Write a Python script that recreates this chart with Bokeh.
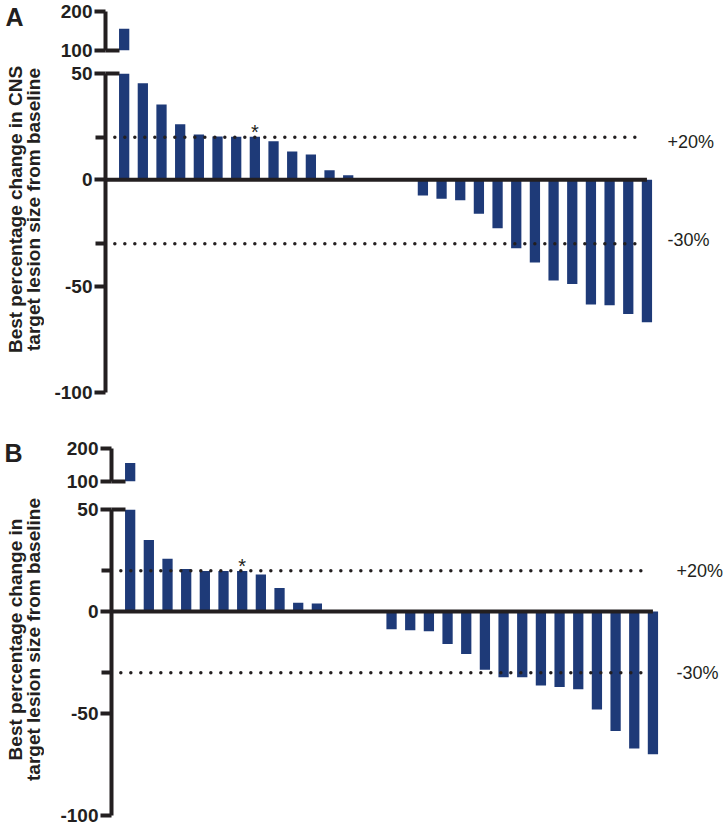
import math

from bokeh.core.properties import value
from bokeh.embed import file_html
from bokeh.layouts import column, row
from bokeh.models import (BooleanFilter, CDSView, ColumnDataSource, FixedTicker,
                          LinearAxis, PrintfTickFormatter, Range1d)
from bokeh.plotting import figure
from bokeh.resources import INLINE

# Best percentage change from baseline per patient, sorted (waterfall order)
cns_change = [156, 45.4, 35.4, 26.1, 21.3, 20.4, 20.2, 20.2, 18.2, 13.3, 11.9, 4.5, 2.2,
              0, 0, 0,
              -7.4, -8.9, -9.6, -15.9, -22.8, -32.2, -38.9, -47.3, -49.0, -58.6, -59.0,
              -63.1, -67.0]
total_change = [156, 35.1, 25.8, 20.8, 19.9, 19.9, 19.9, 18.1, 11.5, 4.3, 3.9,
                0, 0, 0,
                -8.7, -9.2, -9.7, -15.9, -20.8, -28.6, -32.2, -32.2, -36.3, -37.0, -38.1,
                -48.1, -58.6, -67.1, -70.0]
cns_star = 7
total_star = 6

thresholds = [20, -30]
threshold_labels = ["+20%", "-30%"]
lower_ticks = [-100, -50, 0, 50]
upper_ticks = [100, 200]
cns_title = ["Best percentage change in CNS", "target lesion size from baseline"]
total_title = ["Best percentage change in", "target lesion size from baseline"]

BAR = "#1e3a78"
INK = "#231f20"
FONT = "Liberation Sans"
WIDTH = 727
STRIP = 44        # left strip holding the panel letter and y title
STEP = 18.67      # pixels per patient slot
BAR_W = 0.55
LOW = (-100, 50)  # lower axis segment
HIGH = (100, 200)  # upper axis segment


def style_y_axis(ax, ticks, minor):
    ax.ticker = FixedTicker(ticks=ticks, minor_ticks=minor)
    ax.formatter = PrintfTickFormatter(format="%d")
    ax.axis_line_width = 4
    ax.axis_line_color = INK
    ax.major_tick_in = 0
    ax.major_tick_out = 11
    ax.major_tick_line_width = 4
    ax.major_tick_line_color = INK
    ax.minor_tick_in = 0
    ax.minor_tick_out = 10
    ax.minor_tick_line_width = 4
    ax.minor_tick_line_color = INK
    ax.major_label_text_font = FONT
    ax.major_label_text_font_style = "bold"
    ax.major_label_text_font_size = "19px"
    ax.major_label_text_color = INK
    ax.major_label_standoff = 2
    ax.axis_label_standoff = 0


def stub_axis(left_end, right_end):
    # short piece of the x axis that closes each axis segment
    ax = LinearAxis(bounds=(left_end, right_end), ticker=FixedTicker(ticks=[]))
    ax.axis_line_width = 4
    ax.axis_line_color = INK
    ax.major_tick_out = 0
    ax.major_tick_in = 0
    ax.minor_tick_out = 0
    ax.minor_tick_in = 0
    ax.major_label_standoff = 0
    ax.axis_label_standoff = 0
    ax.major_label_text_font_size = "0px"
    return ax


def make_strip(height, letter, letter_pos, lines, title_y):
    # strip in pixel units: panel letter and two-line rotated y title
    s = figure(width=STRIP, height=height, x_range=Range1d(0, STRIP),
               y_range=Range1d(height, 0), min_border=0, toolbar_location=None,
               output_backend="svg", x_axis_location=None, y_axis_location=None,
               title=None, outline_line_color=None, border_fill_color="white")
    s.grid.visible = False
    s.text(x=[letter_pos[0]], y=[letter_pos[1]], text=[letter], text_font=value(FONT),
           text_font_style="bold", text_font_size="25px", text_color=INK,
           text_align="left", text_baseline="middle")
    s.text(x=[15, 32.5], y=[title_y, title_y], text=lines, angle=math.pi / 2,
           text_font=value(FONT), text_font_style="bold", text_font_size="19px",
           text_color=INK, text_align="center", text_baseline="middle")
    return s


def make_panel(letter, values, star, lines, left, top_geom, low_geom, label_px,
               label_shift, letter_pos, title_y):
    """Waterfall with a broken y axis: upper segment 100-200, lower -100-50."""
    n = len(values)
    src = ColumnDataSource(dict(x=list(range(n)), v=values))
    inner_left = left - STRIP
    fig_w = WIDTH - STRIP
    xr = Range1d(-1, -1 + (fig_w - inner_left) / STEP)

    def px_x(px):
        return -1 + (px - left) / STEP

    def fig(geom, yr, view=None):
        bt, fh, bb = geom
        p = figure(width=fig_w, height=bt + fh + bb, x_range=xr, y_range=Range1d(*yr),
                   min_border_left=inner_left, min_border_right=0, min_border_top=bt,
                   min_border_bottom=bb, toolbar_location=None, output_backend="svg",
                   x_axis_location=None, title=None, outline_line_color=None,
                   background_fill_color="white", border_fill_color="white")
        p.grid.visible = False
        kw = {} if view is None else {"view": view}
        p.vbar(x="x", top="v", bottom=0, width=BAR_W, source=src,
               fill_color=BAR, line_color=None, **kw)
        return p

    # upper segment: only bars that reach it
    up_view = CDSView(filter=BooleanFilter([v > HIGH[0] for v in values]))
    up = fig(top_geom, HIGH, up_view)
    style_y_axis(up.yaxis[0], upper_ticks, [])
    up.add_layout(stub_axis(-1, -BAR_W / 2), "below")

    lo = fig(low_geom, LOW)
    style_y_axis(lo.yaxis[0], lower_ticks, thresholds)
    lo.add_layout(stub_axis(-1, -BAR_W / 2), "above")

    dots = ColumnDataSource(dict(x0=[-0.5] * len(thresholds),
                                 x1=[n - 1.35] * len(thresholds), y=thresholds))
    lo.segment(x0="x0", y0="y", x1="x1", y1="y", source=dots, line_color=INK,
               line_width=3.5, line_dash="0 10", line_cap="round")
    lo.segment(x0=[-1], y0=[0], x1=[n - 1], y1=[0], line_color=INK, line_width=4)

    lo.text(x=[px_x(label_px)] * len(thresholds),
            y=[t + s for t, s in zip(thresholds, label_shift)],
            text=threshold_labels, text_font=value(FONT), text_font_size="18px",
            text_color=INK, text_align="left", text_baseline="middle")
    lo.text(x=[star], y=[values[star] + 2.2], text=["*"],
            text_font=value(FONT), text_font_size="20px", text_color=INK,
            text_align="center", text_baseline="middle")

    height = sum(top_geom) + sum(low_geom)
    strip = make_strip(height, letter, letter_pos, lines, title_y)
    return row(strip, column(up, lo, spacing=0), spacing=0)


panel_a = make_panel("A", cns_change, cns_star, cns_title, left=105,
                     top_geom=(11, 39, 11), low_geom=(12, 319, 20), label_px=667,
                     label_shift=[-2.4, 1.6], letter_pos=(5, 16), title_y=209)
panel_b = make_panel("B", total_change, total_star, total_title, left=111,
                     top_geom=(36, 33, 14), low_geom=(14, 306, 15), label_px=676,
                     label_shift=[0, 0], letter_pos=(4, 40), title_y=227)

layout = column(panel_a, panel_b, spacing=0)
open("out.html", "w").write(file_html(layout, INLINE))
